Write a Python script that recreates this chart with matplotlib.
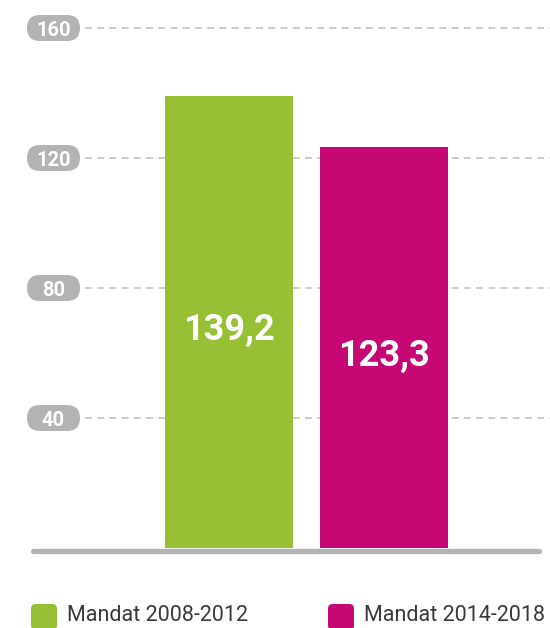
import matplotlib
matplotlib.use("Agg")
import matplotlib.pyplot as plt
from matplotlib.transforms import IdentityTransform
from matplotlib.patches import FancyBboxPatch

labels = ["Mandat 2008-2012", "Mandat 2014-2018"]
values = [139.2, 123.3]
value_texts = ["139,2", "123,3"]
colors = ["#97bf33", "#c60874"]
ticks = [40, 80, 120, 160]
tick_labels = ["40", "80", "120", "160"]

plt.rcParams['font.family'] = ['Roboto', 'DejaVu Sans']

fig = plt.figure(figsize=(5.5, 6.28), dpi=100)
# axes: y=0 at 548px, y=160 at 28px
bottom = (628 - 548) / 628
height = (548 - 28) / 628
ax = fig.add_axes([0, bottom, 1, height])
ax.set_ylim(0, 160)
ax.set_xlim(-1.477, 2.071)
ax.axis('off')

x = [0, 1]
ax.bar(x, values, width=0.826, color=colors, zorder=2)

for xi, v, t in zip(x, values, value_texts):
    ax.text(xi, v / 2 - 2.5, t, ha='center', va='center', color='white',
            fontsize=26, fontweight='bold', zorder=3)

# dashed gridlines
for t in ticks:
    ax.plot([-0.93, 2.071], [t, t], color='#bdbdbd', lw=1.1,
            dashes=(4.5, 3.5), zorder=1, clip_on=False)

# baseline
ax.plot([-1.265, 2.0], [-0.9, -0.9], color='#b3b3b3', lw=3.8,
        solid_capstyle='round', zorder=4, clip_on=False)

# tick pills, fixed size in pixels
pill_w, pill_h, pill_cx = 53, 26, 53.5
for t, lab in zip(ticks, tick_labels):
    _, py = ax.transData.transform((0, t))
    pill = FancyBboxPatch((pill_cx - pill_w / 2, py - pill_h / 2), pill_w, pill_h,
                          boxstyle='round,pad=0,rounding_size=13',
                          transform=IdentityTransform(), fc='#b3b3b3', ec='none',
                          zorder=5)
    fig.patches.append(pill)
    fig.text(pill_cx / 550, py / 628, lab, ha='center', va='center_baseline',
             color='white', fontsize=14.5, fontweight='bold', zorder=6)

# legend at the bottom edge
leg_x = [31 / 550, 328 / 550]
for lx, lab, c in zip(leg_x, labels, colors):
    fig.patches.append(FancyBboxPatch((lx, 1 - 630 / 628), 26 / 550, 26 / 628,
                                      boxstyle='round,pad=0,rounding_size=0.008',
                                      transform=fig.transFigure, fc=c, ec='none'))
    fig.text(lx + 36 / 550, 1 - 621 / 628, lab, ha='left', va='baseline',
             fontsize=15.5, color='#3a3a3a')

fig.savefig('out.png', dpi=100)
